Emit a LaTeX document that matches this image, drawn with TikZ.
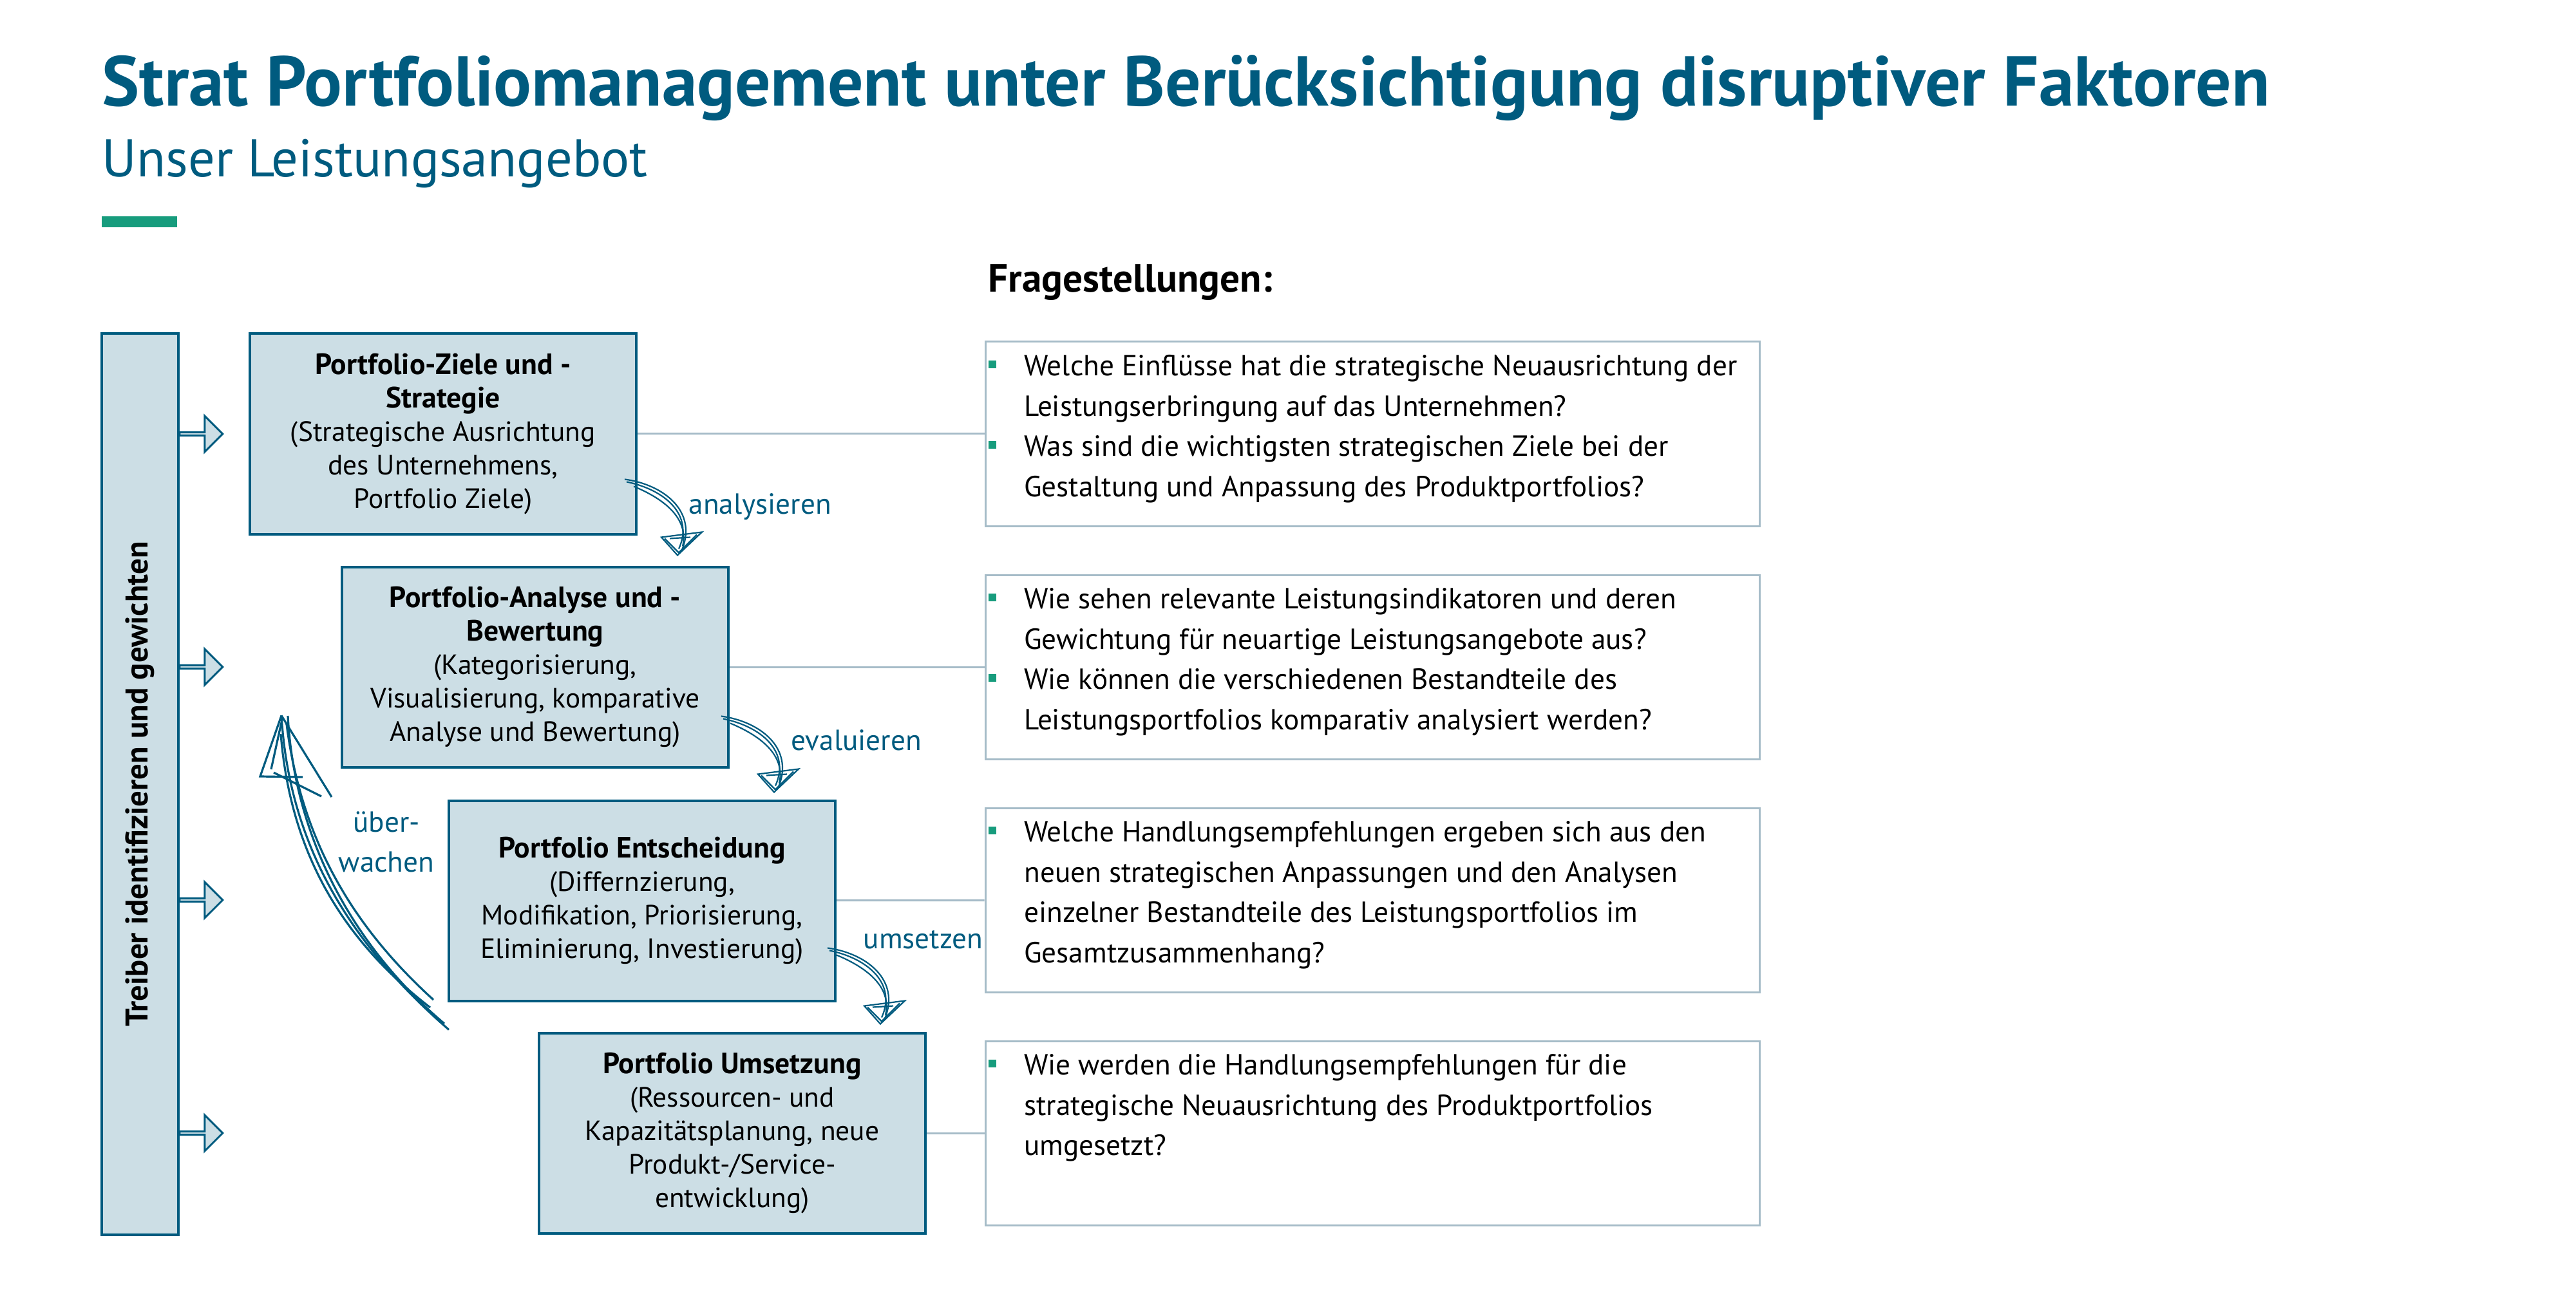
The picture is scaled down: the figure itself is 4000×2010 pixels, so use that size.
\documentclass[tikz,border=0pt]{standalone}
\usepackage{fontspec}
\setmainfont{PT Sans}
\usepackage{tikz}
\usetikzlibrary{shapes.arrows,calc}
\definecolor{fhblau}{HTML}{005B7F}
\definecolor{kastenblau}{HTML}{CCDEE5}
\definecolor{rahmengrau}{HTML}{A6BCC8}
\definecolor{fhgruen}{HTML}{179C7D}
\newcommand{\punkt}{\textcolor{fhgruen}{\rule[3pt]{3pt}{3pt}}}
\newcommand{\kopf}[1]{{\bfseries\fontsize{11.4}{13}\selectfont #1}}

\begin{document}
\begin{tikzpicture}[
    x=0.25pt, y=-0.25pt,
    schritt/.style={rectangle, draw=fhblau, line width=1pt, fill=kastenblau, minimum width=150pt, minimum height=77.75pt, inner sep=0pt, align=center, font=\fontsize{10.85}{13}\selectfont},
    frage/.style={rectangle, draw=rahmengrau, line width=0.75pt, minimum width=300.5pt, minimum height=71.5pt, inner sep=0pt},
    fragetext/.style={anchor=north west, inner sep=0pt, align=left, font=\fontsize{11.3}{15.6}\selectfont},
    blockpfeil/.style={single arrow, draw=fhblau, line width=0.75pt, fill=kastenblau, minimum height=16.75pt, minimum width=14pt, single arrow head extend=3.5pt, inner sep=0pt},
    verb/.style={draw=rahmengrau, line width=0.75pt},
    skizze/.style={draw=fhblau, line width=0.55pt},
    taetigkeit/.style={text=fhblau, inner sep=0pt, font=\fontsize{11.3}{15.5}\selectfont},
    skizzenpfeil/.pic={
        \draw[skizze] (0,0) .. controls (60,8) and (115,50) .. (88,112);
        \draw[skizze] (3,4) .. controls (62,16) and (108,55) .. (84,108);
        \draw[skizze] (14,11) .. controls (60,30) and (100,60) .. (90,104);
        \draw[skizze] (57,90) -- (82,118) -- (120,82) -- cycle;
        \draw[skizze] (62,92) -- (84,114) -- (112,86);
        \draw[skizze] (70,92) -- (102,90);
    }
]
    \useasboundingbox (0,0) rectangle (4000,2010);

    % Kopf
    \node[anchor=base west, inner sep=0pt, text=fhblau, font=\bfseries\fontsize{27.4}{32}\selectfont] (titel) at (158,165) {Strat Portfoliomanagement unter Berücksichtigung disruptiver Faktoren};
    \node[anchor=base west, inner sep=0pt, text=fhblau, font=\fontsize{20.6}{24}\selectfont] (untertitel) at (158,275) {Unser Leistungsangebot};
    \fill[fhgruen] (158,336) rectangle (275,353);
    \node[anchor=base west, inner sep=0pt, font=\bfseries\fontsize{15.3}{18}\selectfont] (fragen) at (1534,454) {Fragestellungen:};

    % Treiber
    \node[rectangle, draw=fhblau, line width=1pt, fill=kastenblau, minimum width=350pt, minimum height=29.75pt, rotate=90, font=\bfseries\fontsize{12.2}{14}\selectfont] (treiber) at (217,1218) {Treiber identifizieren und gewichten};
    \foreach \y [count=\i] in {674,1036,1398,1760}
        \node[blockpfeil] (pfeil\i) at (311,\y) {};

    % Schritte
    \node[schritt] (ziele) at (688,674) {\kopf{Portfolio-Ziele und -}\\\kopf{Strategie}\\(Strategische Ausrichtung\\des Unternehmens,\\Portfolio Ziele)};
    \node[schritt] (analyse) at (831,1036) {\kopf{Portfolio-Analyse und -}\\\kopf{Bewertung}\\(Kategorisierung,\\Visualisierung, komparative\\Analyse und Bewertung)};
    \node[schritt] (entscheidung) at (997,1399) {\kopf{Portfolio Entscheidung}\\(Differnzierung,\\Modifikation, Priorisierung,\\Eliminierung, Investierung)};
    \node[schritt] (umsetzung) at (1137,1760) {\kopf{Portfolio Umsetzung}\\(Ressourcen- und\\Kapazitätsplanung, neue\\Produkt-/Service-\\entwicklung)};

    % Fragen
    \node[frage] (frage1) at (2131,674) {};
    \node[frage] (frage2) at (2131,1036) {};
    \node[frage] (frage3) at (2131,1398) {};
    \node[frage] (frage4) at (2131,1760) {};
    \draw[verb] (ziele) -- (frage1);
    \draw[verb] (analyse) -- (frage2);
    \draw[verb] (entscheidung) -- (frage3);
    \draw[verb] (umsetzung) -- (frage4);

    \node[fragetext] (text1) at ($(frage1.north west)+(6,10)$) {\begin{tabular}{@{}p{13.75pt}@{}l@{}}
        \punkt & Welche Einflüsse hat die strategische Neuausrichtung der\\
               & Leistungserbringung auf das Unternehmen?\\
        \punkt & Was sind die wichtigsten strategischen Ziele bei der\\
               & Gestaltung und Anpassung des Produktportfolios?
    \end{tabular}};
    \node[fragetext] (text2) at ($(frage2.north west)+(6,10)$) {\begin{tabular}{@{}p{13.75pt}@{}l@{}}
        \punkt & Wie sehen relevante Leistungsindikatoren und deren\\
               & Gewichtung für neuartige Leistungsangebote aus?\\
        \punkt & Wie können die verschiedenen Bestandteile des\\
               & Leistungsportfolios komparativ analysiert werden?
    \end{tabular}};
    \node[fragetext] (text3) at ($(frage3.north west)+(6,10)$) {\begin{tabular}{@{}p{13.75pt}@{}l@{}}
        \punkt & Welche Handlungsempfehlungen ergeben sich aus den\\
               & neuen strategischen Anpassungen und den Analysen\\
               & einzelner Bestandteile des Leistungsportfolios im\\
               & Gesamtzusammenhang?
    \end{tabular}};
    \node[fragetext] (text4) at ($(frage4.north west)+(6,10)$) {\begin{tabular}{@{}p{13.75pt}@{}l@{}}
        \punkt & Wie werden die Handlungsempfehlungen für die\\
               & strategische Neuausrichtung des Produktportfolios\\
               & umgesetzt?
    \end{tabular}};

    % Uebergaenge
    \pic at ($(ziele.south east)+(-20,-87)$) {skizzenpfeil};
    \pic at ($(analyse.south east)+(-13,-81)$) {skizzenpfeil};
    \pic at ($(entscheidung.south east)+(-14,-84)$) {skizzenpfeil};
    \node[taetigkeit, anchor=base west] (analysieren) at (1069,798) {analysieren};
    \node[taetigkeit, anchor=base west] (evaluieren) at (1228,1165) {evaluieren};
    \node[taetigkeit, anchor=base west] (umsetzen) at (1340,1473) {umsetzen};

    % ueberwachen
    \coordinate (ueberfuss) at ($(entscheidung.south west)+(2,43)$);
    \coordinate (ueberspitze) at ($(analyse.south west)+(-92,-82)$);
    \draw[skizze, line width=0.8pt] (ueberfuss) .. controls (560,1480) and (450,1330) .. (ueberspitze);
    \draw[skizze, line width=0.8pt] (673,1553) .. controls (560,1450) and (470,1320) .. (445,1125);
    \draw[skizze, line width=0.8pt] (668,1565) .. controls (545,1470) and (452,1340) .. (436,1140);
    \draw[skizze, line width=0.8pt] (690,1590) .. controls (565,1485) and (458,1320) .. (447,1112);
    \draw[skizze, line width=0.8pt] (ueberspitze) -- (404,1206) -- (470,1207);
    \draw[skizze, line width=0.8pt] (ueberspitze) -- (515,1238);
    \draw[skizze, line width=0.8pt] (425,1200) -- (499,1237);
    \draw[skizze, line width=0.8pt] (437,1122) -- (421,1195);
    \node[taetigkeit, align=center] (ueberwachen) at (600,1308) {über-\\wachen};
\end{tikzpicture}
\end{document}
